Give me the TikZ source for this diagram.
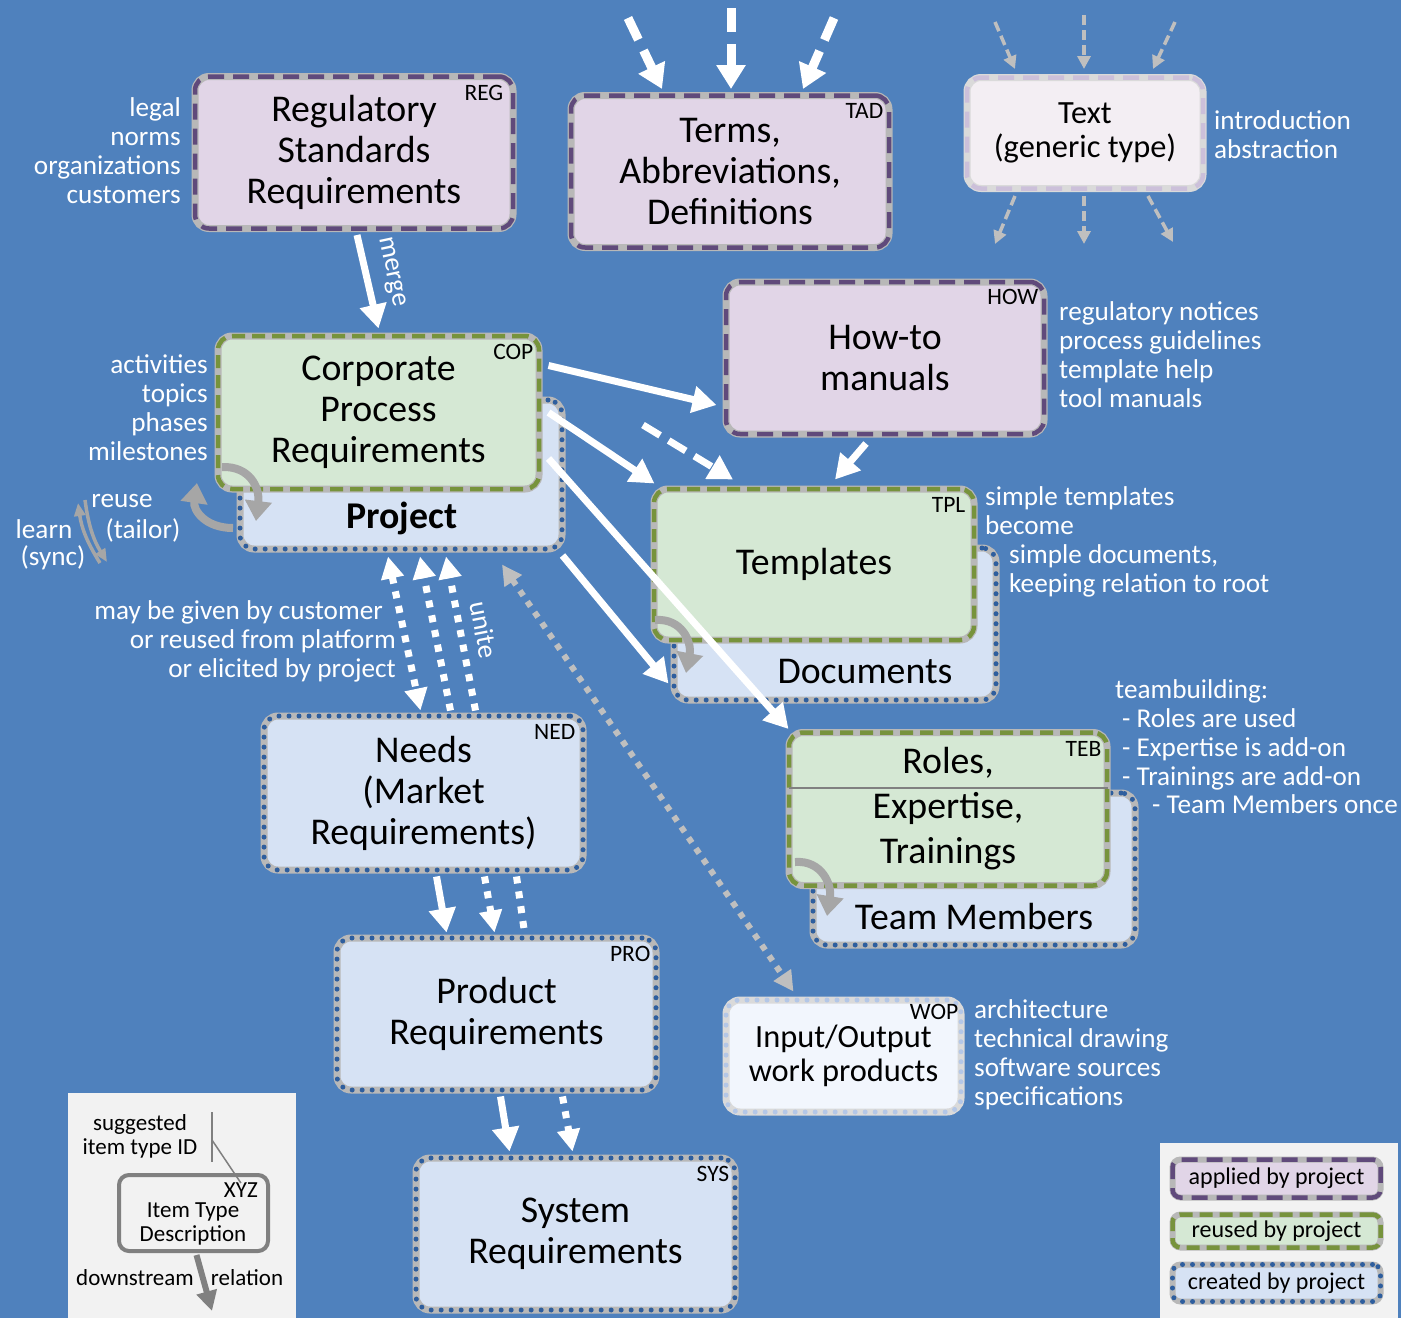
\documentclass[tikz,border=0pt]{standalone}
\usepackage{fontspec}
\setmainfont{Carlito}
\usetikzlibrary{arrows.meta,calc}

\definecolor{bgColor}{HTML}{4F81BD}
\definecolor{rimColor}{HTML}{B8B8B8}
\definecolor{applyFillColor}{HTML}{E1D5E7}
\definecolor{applyDashColor}{HTML}{604A7B}
\definecolor{reuseFillColor}{HTML}{D5E8D4}
\definecolor{reuseDashColor}{HTML}{77933C}
\definecolor{createFillColor}{HTML}{D6E2F4}
\definecolor{createDotColor}{HTML}{2E5E9E}
\definecolor{genericFillColor}{HTML}{F3EEF3}
\definecolor{genericRimColor}{HTML}{DADADA}
\definecolor{genericDashColor}{HTML}{CCC0DA}
\definecolor{wopFillColor}{HTML}{F2F6FD}
\definecolor{wopDotColor}{HTML}{B4C7E7}
\definecolor{curlColor}{HTML}{A6A6A6}
\definecolor{hintColor}{HTML}{BFBFBF}
\definecolor{panelColor}{HTML}{F2F2F2}
\definecolor{keyColor}{HTML}{808080}

\newcommand\boxfont{\fontsize{37.8}{41}\selectfont}
\newcommand\genfont{\fontsize{32.4}{34}\selectfont}
\newcommand\notefont{\fontsize{27.2}{29}\selectfont}
\newcommand\idfont{\fontsize{23.5}{24}\selectfont}
\newcommand\legfont{\fontsize{24}{25}\selectfont}
\newcommand\keyfont{\fontsize{23}{24}\selectfont}

\tikzset{
  itembox/.style={rounded corners=14pt, line width=7pt, draw=rimColor, align=center,
    inner sep=0pt, minimum width=318pt, minimum height=152pt, font=\boxfont},
  applied/.style={itembox, fill=applyFillColor,
    postaction={draw=applyDashColor, line width=4.5pt, dash pattern=on 16pt off 9pt}},
  reused/.style={itembox, fill=reuseFillColor,
    postaction={draw=reuseDashColor, line width=4.5pt, dash pattern=on 13pt off 7pt}},
  created/.style={itembox, fill=createFillColor,
    postaction={draw=createDotColor, line width=5pt, line cap=round, dash pattern=on 0pt off 10pt}},
  generic/.style={itembox, fill=genericFillColor, draw=genericRimColor, font=\genfont,
    postaction={draw=genericDashColor, line width=4.5pt, dash pattern=on 16pt off 9pt}},
  workprod/.style={itembox, fill=wopFillColor, draw=genericRimColor, font=\genfont,
    postaction={draw=wopDotColor, line width=5pt, line cap=round, dash pattern=on 0pt off 10pt}},
  idtag/.style={font=\idfont, anchor=north east, inner sep=0pt},
  note/.style={font=\notefont, text=white, inner sep=0pt},
  flow/.style={draw=white, line width=7pt, -{Triangle[length=24pt,width=26pt]}},
  flowdash/.style={flow, dash pattern=on 20pt off 10pt},
  bigdash/.style={draw=white, line width=9pt, dash pattern=on 24pt off 12pt,
    -{Triangle[length=24pt,width=28pt]}},
  flowdot/.style={draw=white, line width=7pt, dash pattern=on 7pt off 8pt,
    -{Triangle[length=22pt,width=22pt]}},
  hint/.style={draw=hintColor, line width=3.5pt, dash pattern=on 10pt off 5pt,
    -{Triangle[length=13pt,width=13pt]}},
  curl/.style={draw=curlColor, line width=8pt, -{Triangle[length=20pt,width=26pt]}},
  thincurl/.style={draw=curlColor, line width=3.5pt, -{Triangle[length=13pt,width=11pt]}}
}

\begin{document}
\begin{tikzpicture}[x=1pt, y=-1pt]
    % canvas
    \useasboundingbox (0,0) rectangle (1401,1318);
    \fill[bgColor] (0,0) rectangle (1401,1318);

    % item types
    \node[applied] (reg) at (354,152.5) {Regulatory\\Standards\\Requirements};
    \node[applied] (tad) at (730,171.5) {Terms,\\Abbreviations,\\Definitions};
    \node[generic, minimum width=236pt, minimum height=111pt] (txt) at (1085,133) {Text\\(generic type)};
    \node[applied] (how) at (885,358) {How-to\\manuals};
    \node[created, minimum width=322pt, minimum height=149pt] (prj) at (401,474.5) {};
    \node[reused, minimum width=321pt, minimum height=153pt] (cop) at (378.5,412.5) {Corporate\\Process\\Requirements};
    \node[created, minimum width=322pt] (doc) at (835,624) {};
    \node[reused, minimum width=320pt, minimum height=151pt] (tpl) at (814,564.5) {Templates};
    \node[created, minimum width=322pt] (tmb) at (974,869) {};
    \node[reused, minimum height=153pt, font=\fontsize{37.8}{45}\selectfont] (teb) at (948,809) {Roles,\\Expertise,\\Trainings};
    \node[created, minimum width=319pt, minimum height=154pt] (ned) at (423.5,793) {Needs\\(Market\\Requirements)};
    \node[created, minimum width=319pt] (pro) at (496.5,1014) {Product\\Requirements};
    \node[created, minimum width=319pt] (sys) at (575.5,1234) {System\\Requirements};
    \node[workprod, minimum width=235pt, minimum height=112pt] (wop) at (843.5,1056) {Input/Output\\work products};

    \draw[keyColor, line width=2pt] ($(teb.west)+(3,-21)$) -- ($(teb.east)+(-3,-21)$);
    \node[font=\boxfont\bfseries, anchor=base] (prjtext) at (402,528) {Project};
    \node[font=\boxfont, anchor=base] (doctext) at (865,683) {Documents};
    \node[font=\boxfont, anchor=base] (tmbtext) at (974,929) {Team Members};

    % suggested ids
    \node[idtag] (regid) at ($(reg.north east)+(-13,12)$) {REG};
    \node[idtag] (tadid) at ($(tad.north east)+(-9,11)$) {TAD};
    \node[idtag] (howid) at ($(how.north east)+(-9,11)$) {HOW};
    \node[idtag] (copid) at ($(cop.north east)+(-9,12)$) {COP};
    \node[idtag] (tplid) at ($(tpl.north east)+(-12,12)$) {TPL};
    \node[idtag] (tebid) at ($(teb.north east)+(-9,12)$) {TEB};
    \node[idtag] (nedid) at ($(ned.north east)+(-11,12)$) {NED};
    \node[idtag] (proid) at ($(pro.north east)+(-9,12)$) {PRO};
    \node[idtag] (sysid) at ($(sys.north east)+(-9,12)$) {SYS};
    \node[idtag] (wopid) at ($(wop.north east)+(-6,8)$) {WOP};

    % side notes
    \node[note, align=right, anchor=east] (regnote) at (181,151) {legal\\norms\\organizations\\customers};
    \node[note, align=left, anchor=west] (txtnote) at (1214,135) {introduction\\abstraction};
    \node[note, align=left, anchor=west] (hownote) at (1059,355) {regulatory notices\\process guidelines\\template help\\tool manuals};
    \node[note, align=right, anchor=east] (copnote) at (208,408) {activities\\topics\\phases\\milestones};
    \node[note] (reusenote) at (122,501) {reuse};
    \node[note] (tailornote) at (143,530) {(tailor)};
    \node[note] (learnnote) at (44,529) {learn};
    \node[note] (syncnote) at (53,558) {(sync)};
    \node[note, align=left, anchor=west] (tplnote) at (985,511) {simple templates\\become};
    \node[note, align=left, anchor=west] (docnote) at (1009,571) {simple documents,\\keeping relation to root};
    \node[note, align=left, anchor=west] (tebnote) at (1115,735) {teambuilding:\\\hspace*{7pt}- Roles are used\\\hspace*{7pt}- Expertise is add-on\\\hspace*{7pt}- Trainings are add-on};
    \node[note, anchor=west] (tmbnote) at (1152,804) {- Team Members once};
    \node[note, align=left, anchor=west] (wopnote) at (974,1055) {architecture\\technical drawing\\software sources\\specifications};
    \node[note, align=right, anchor=east] (nednote) at (396,641) {may be given by customer\hspace*{13pt}\\or reused from platform\hspace*{7pt}\\or elicited by project};
    \node[note, rotate=-78] (mergenote) at (391,272) {merge};
    \node[note, rotate=-79] (unitenote) at (484,630) {unite};

    % relations
    \draw[flow] ($(reg.south)+(3,3)$) -- ($(cop.north)+(0,-4)$);
    \coordinate (tadinl) at (628,18);
    \coordinate (tadinm) at (731,8);
    \coordinate (tadinr) at (834,18);
    \draw[bigdash] (tadinl) -- ($(tad.north)+(-68,-3)$);
    \draw[bigdash] (tadinm) -- ($(tad.north)+(1,-3)$);
    \draw[bigdash] (tadinr) -- ($(tad.north)+(73,-3)$);

    \coordinate (txtinl) at (995,22);
    \coordinate (txtinm) at (1084,15);
    \coordinate (txtinr) at (1175,22);
    \coordinate (txtoutl) at (995,244);
    \coordinate (txtoutm) at (1084,244);
    \coordinate (txtoutr) at (1173,242);
    \draw[hint] (txtinl) -- ($(txt.north)+(-70,-5)$);
    \draw[hint] (txtinm) -- ($(txt.north)+(-1,-5)$);
    \draw[hint] (txtinr) -- ($(txt.north)+(68,-5)$);
    \draw[hint] ($(txt.south)+(-70,4)$) -- (txtoutl);
    \draw[hint] ($(txt.south)+(-1,4)$) -- (txtoutm);
    \draw[hint] ($(txt.south)+(63,4)$) -- (txtoutr);

    \draw[flow] ($(cop.east)+(6,-47)$) -- ($(how.west)+(-6,47)$);
    \draw[flow] ($(cop.east)+(6,0)$) -- ($(tpl.north west)+(4,-2)$);
    \coordinate (tpldash) at (643,425);
    \draw[flowdash] (tpldash) -- ($(tpl.north)+(-81,-6)$);
    \draw[flow] ($(how.south)+(-19,6)$) -- ($(tpl.north)+(21,-6)$);
    \draw[flow] ($(cop.east)+(6,46)$) -- ($(teb.north west)+(3,0)$);
    \draw[flow] ($(prj.south east)+(-3,3)$) -- ($(doc.south west)+(-2,-20)$);

    \draw[flowdot, {Triangle[length=22pt,width=22pt]}-{Triangle[length=22pt,width=22pt]}] ($(prj.south)+(-13,4)$) -- ($(ned.north)+(-3,-2)$);
    \draw[flowdot] ($(ned.north)+(27,-2)$) -- ($(prj.south)+(19,4)$);
    \draw[flowdot] ($(ned.north)+(52,-2)$) -- ($(prj.south)+(45,4)$);
    \draw[draw=hintColor, line width=6pt, dash pattern=on 6pt off 7pt,
      {Triangle[length=20pt,width=20pt]}-{Triangle[length=20pt,width=20pt]}]
      ($(prj.south)+(101,12)$) -- ($(wop.north)+(-50,-5)$);

    \draw[flow] ($(ned.south)+(13,3)$) -- ($(pro.north)+(-50,-2)$);
    \draw[flowdot] ($(ned.south)+(61,3)$) -- ($(pro.north)+(-2,-2)$);
    \draw[draw=white, line width=7pt, dash pattern=on 7pt off 8pt] ($(ned.south)+(93,3)$) -- ($(pro.north)+(28,-2)$);
    \draw[flow] ($(pro.south)+(4,3)$) -- ($(sys.north)+(-66,-3)$);
    \draw[flowdot] ($(pro.south)+(66,3)$) -- ($(sys.north)+(-3,-3)$);

    % reuse and learn loops
    \coordinate (copcurlA) at (222,467);
    \coordinate (copcurlB) at (256,521);
    \coordinate (prjcurlA) at (233,528);
    \coordinate (prjcurlB) at (197,483);
    \coordinate (tplcurlA) at (655,620);
    \coordinate (tplcurlB) at (686,673);
    \coordinate (tebcurlA) at (795,862);
    \coordinate (tebcurlB) at (827,916);
    \draw[curl] (copcurlA) .. controls (250,466) and (260,488) .. (copcurlB);
    \draw[curl] (prjcurlA) .. controls (205,528) and (193,510) .. (prjcurlB);
    \draw[curl] (tplcurlA) .. controls (682,618) and (692,642) .. (tplcurlB);
    \draw[curl] (tebcurlA) .. controls (822,860) and (832,885) .. (tebcurlB);
    \coordinate (learnA) at (100,563);
    \coordinate (learnB) at (78,503);
    \coordinate (reuseA) at (85,500);
    \coordinate (reuseB) at (107,562);
    \draw[thincurl] (learnA) to[bend left=12] (learnB);
    \draw[thincurl] (reuseA) to[bend right=12] (reuseB);

    % legend: item type
    \fill[panelColor] (68,1093) rectangle (296,1318);
    \node[font=\keyfont, align=center, inner sep=0pt] (suggest) at (140,1136) {suggested\\item type ID};
    \coordinate (barTop) at (212,1112);
    \coordinate (barBot) at (212,1162);
    \coordinate (barMid) at (212,1140);
    \draw[keyColor, line width=2pt] (barTop) -- (barBot);
    \node[draw=keyColor, line width=4pt, rounded corners=10pt, minimum width=149pt, minimum height=76pt] (xyzbox) at (193.5,1213) {};
    \node[idtag, font=\keyfont] (xyzid) at (258,1183) {XYZ};
    \draw[keyColor, line width=1.5pt] (barMid) -- (xyzid.north);
    \node[font=\keyfont, align=center, inner sep=0pt] (xyztext) at (193,1224) {Item Type\\Description};
    \coordinate (keytip) at (212,1311);
    \draw[draw=keyColor, line width=6pt, -{Triangle[length=20pt,width=20pt]}] ($(xyzbox.south)+(3,2)$) -- (keytip);
    \node[font=\keyfont, inner sep=0pt] (downstream) at (135,1278) {downstream};
    \node[font=\keyfont, inner sep=0pt] (relation) at (247,1278) {relation};

    % legend: lifecycle
    \fill[panelColor] (1160,1143) rectangle (1398,1318);
    \node[applied, rounded corners=8pt, line width=6pt, minimum width=208pt, minimum height=38pt, font=\legfont] (keyapplied) at (1276.5,1178.5) {applied by project};
    \node[reused, rounded corners=8pt, line width=6pt, minimum width=208pt, minimum height=33pt, font=\legfont] (keyreused) at (1276.5,1231) {reused by project};
    \node[created, rounded corners=8pt, line width=6pt, minimum width=208pt, minimum height=37pt, font=\legfont] (keycreated) at (1276.5,1283) {created by project};
\end{tikzpicture}
\end{document}
